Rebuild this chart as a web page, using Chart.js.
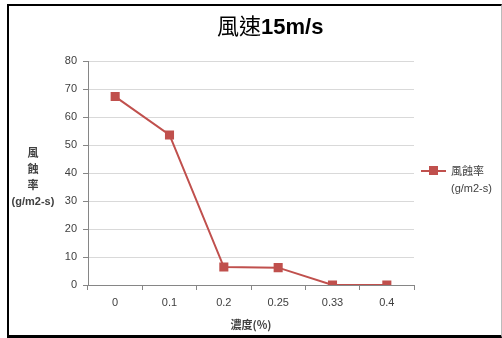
<!DOCTYPE html>
<html><head><meta charset="utf-8">
<script src="https://cdn.jsdelivr.net/npm/chart.js@4/dist/chart.umd.min.js"></script>
<style>
html,body{margin:0;padding:0;background:#fff;}
#wrap{position:relative;width:502px;height:338px;overflow:hidden;}
#frame{position:absolute;left:7px;top:4px;width:492px;height:329px;border-left:2px solid #000;border-top:2px solid #000;border-bottom:3px solid #000;border-right:1px solid #bbb;box-sizing:content-box;}
canvas{position:absolute;left:0;top:0;}
.t{position:absolute;font-family:"Noto Sans CJK TC","Noto Sans",sans-serif;color:#000;white-space:nowrap;}
</style></head><body>
<div id="wrap">
<div id="frame"></div>
<canvas id="c" width="502" height="338"></canvas>
<div class="t" id="title" style="left:217px;top:10px;font-size:22px;line-height:28px;">風速<b style="font-family:'Liberation Sans','Noto Sans',sans-serif;">15m/s</b></div>
<div class="t" id="ytitle" style="left:3px;top:144px;width:60px;text-align:center;font-size:11px;line-height:16px;font-weight:bold;color:#404040;">風<br>蝕<br>率<br><span style="font-family:'Liberation Sans',sans-serif;font-size:11px;">(g/m2-s)</span></div>
<div class="t" id="legend" style="left:421px;top:162px;font-size:11px;line-height:16px;color:#404040;">
<div style="position:absolute;left:0;top:8px;width:25px;height:2px;background:#c0504d;"></div>
<div style="position:absolute;left:8px;top:4px;width:9px;height:9px;background:#c0504d;"></div>
<div style="position:absolute;left:30px;top:0;">風蝕率</div>
<div style="position:absolute;left:30px;top:18px;font-family:'Liberation Sans',sans-serif;">(g/m2-s)</div>
</div>
</div>
<script>
const categories = ['0', '0.1', '0.2', '0.25', '0.33', '0.4'];
const seriesName = '風蝕率';
const erosionRate = [67.3, 53.6, 6.4, 6.2, 0, 0];
const yTicks = [0, 10, 20, 30, 40, 50, 60, 70, 80];
const xTitle = '濃度(%)';

new Chart(document.getElementById('c'), {
  type: 'line',
  data: {
    labels: categories,
    datasets: [{
      label: seriesName,
      data: erosionRate,
      borderColor: '#c0504d',
      backgroundColor: '#c0504d',
      borderWidth: 2,
      pointStyle: 'rect',
      pointRadius: 5,
      pointHoverRadius: 5,
      tension: 0,
      fill: false
    }]
  },
  options: {
    responsive: false,
    animation: false,
    events: [],
    layout: { padding: { left: 52, right: 88, top: 61, bottom: 7 } },
    plugins: { legend: { display: false }, title: { display: false }, tooltip: { enabled: false } },
    scales: {
      x: {
        offset: true,
        grid: { display: true, drawOnChartArea: false, drawTicks: true, offset: true, tickLength: 5, color: '#868686' },
        border: { color: '#868686', width: 1 },
        ticks: { color: '#404040', font: { family: 'Liberation Sans', size: 11 }, padding: 6 },
        title: { display: true, text: xTitle, color: '#404040', font: { family: 'Noto Sans CJK TC', size: 11, weight: 'bold' }, padding: { top: 1, bottom: 0 } },
        afterFit: s => { s.height = 46; }
      },
      y: {
        min: 0, max: 80,
        afterBuildTicks: s => { s.ticks = yTicks.map(v => ({ value: v })); },
        grid: { color: '#d9d9d9', tickLength: 5, tickColor: '#868686' },
        border: { color: '#868686', width: 1 },
        ticks: { color: '#404040', font: { family: 'Liberation Sans', size: 11 }, padding: 6 },
        afterFit: s => { s.width = 36; }
      }
    }
  }
});
</script>
</body></html>
